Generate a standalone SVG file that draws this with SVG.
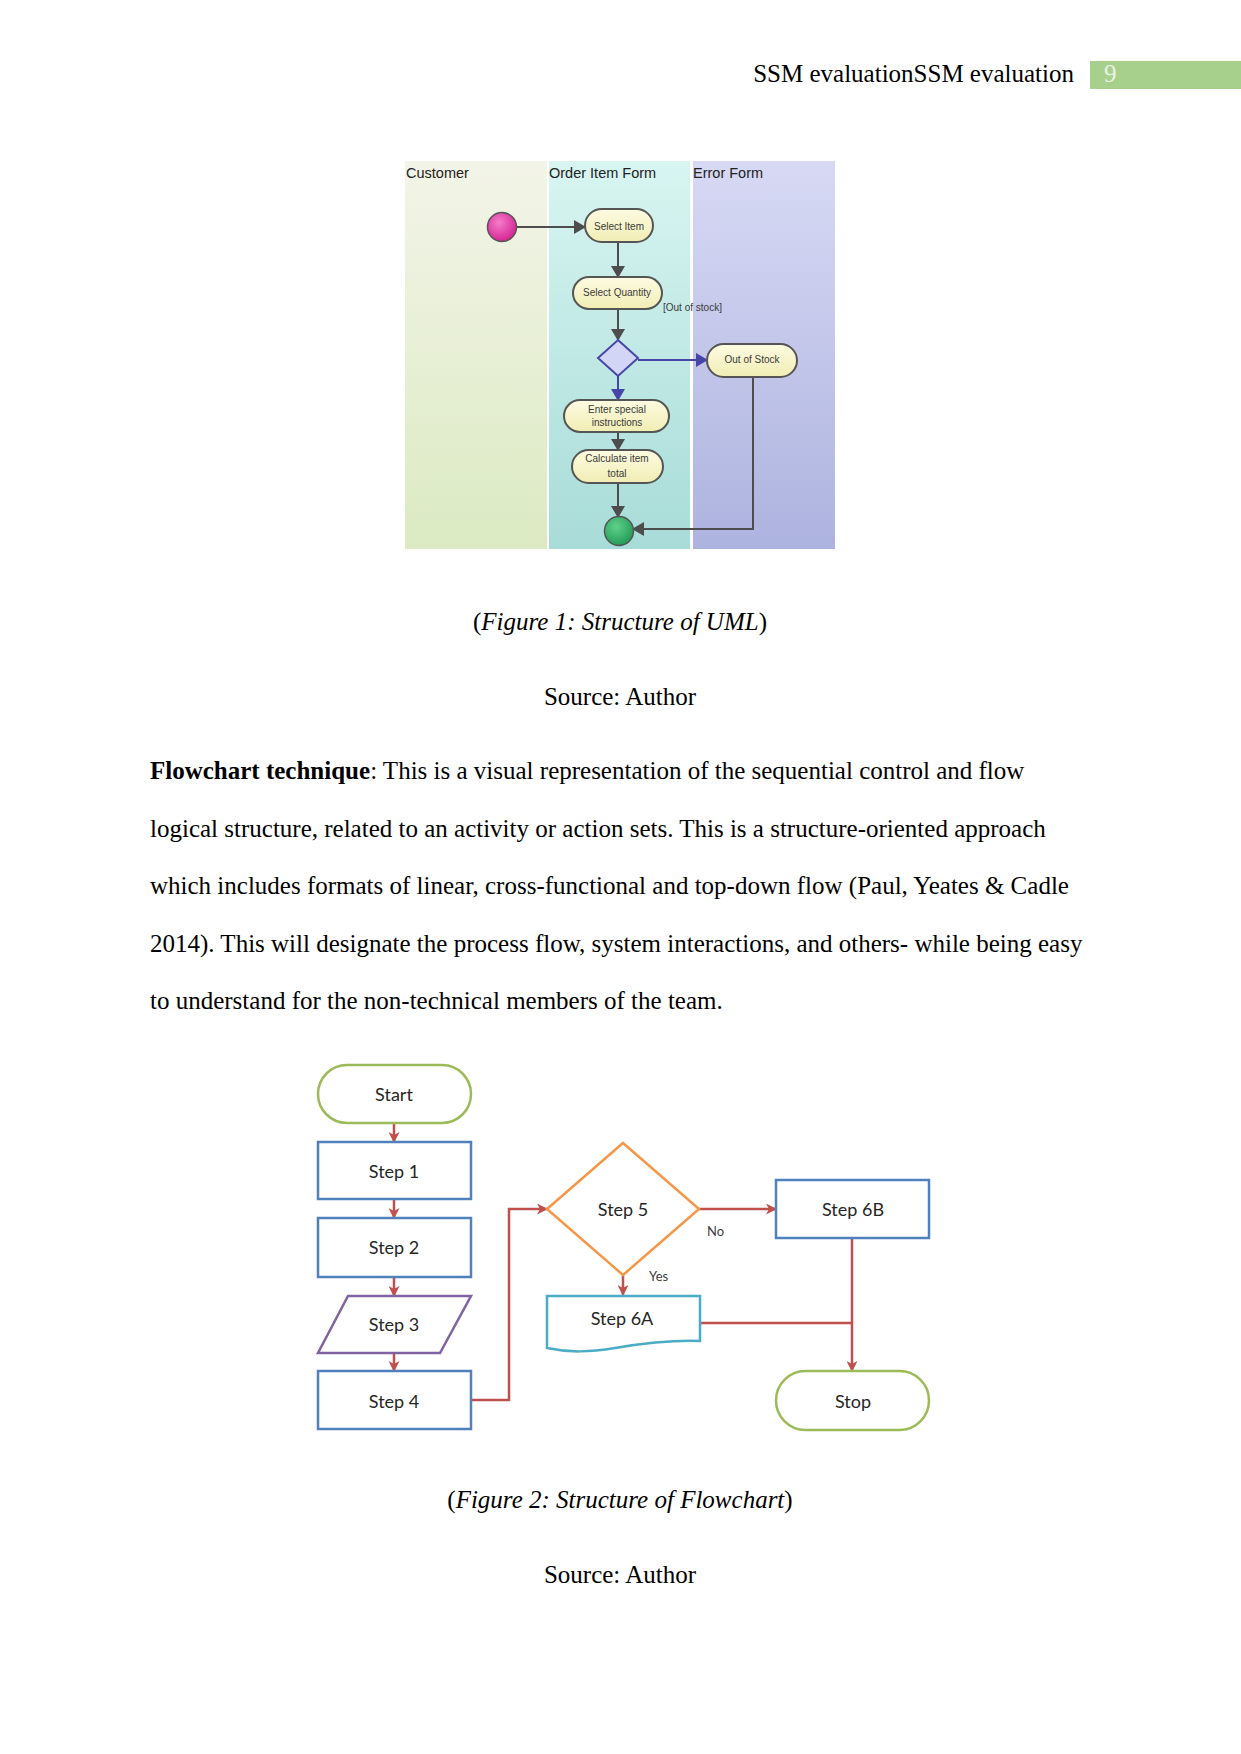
<svg xmlns="http://www.w3.org/2000/svg" width="1241" height="1754" viewBox="0 0 1241 1754">
<style>
.serif{font-family:"Liberation Serif","Times New Roman",serif;font-size:25px;fill:#000}
.it{font-style:italic}
.lane{font-family:"Liberation Sans",Arial,sans-serif;font-size:14.5px;fill:#222}
.un{fill:url(#nodeFill);stroke:#555;stroke-width:2}
.ut{font-family:"Liberation Sans",Arial,sans-serif;font-size:10px;fill:#3a3a3a;text-anchor:middle}
.ul{fill:none;stroke:#4d4d4d;stroke-width:2}
.ub{fill:none;stroke:#4646a8;stroke-width:2}
.ft{font-family:Lato,"Open Sans",sans-serif;font-size:18px;fill:#262626;text-anchor:middle}
.fl{font-family:Lato,"Open Sans",sans-serif;font-size:13px;fill:#404040}
.fc{fill:none;stroke:#c0504d;stroke-width:2.5}
</style>
<defs>
<linearGradient id="gCust" x1="0" y1="0" x2="0" y2="1"><stop offset="0" stop-color="#f3f4e8"/><stop offset="1" stop-color="#dbeac2"/></linearGradient>
<linearGradient id="gOrder" x1="0" y1="0" x2="0" y2="1"><stop offset="0" stop-color="#d8f5f1"/><stop offset="1" stop-color="#a8dcd8"/></linearGradient>
<linearGradient id="gErr" x1="0" y1="0" x2="0" y2="1"><stop offset="0" stop-color="#d7d9f4"/><stop offset="1" stop-color="#adb3df"/></linearGradient>
<linearGradient id="nodeFill" x1="0" y1="0" x2="0" y2="1"><stop offset="0" stop-color="#fdfbe2"/><stop offset="1" stop-color="#f1edb4"/></linearGradient>
<radialGradient id="gPink" cx="0.4" cy="0.35" r="0.7"><stop offset="0" stop-color="#f57ccb"/><stop offset="1" stop-color="#d41f8e"/></radialGradient>
<radialGradient id="gGreen" cx="0.4" cy="0.35" r="0.7"><stop offset="0" stop-color="#5fd08a"/><stop offset="1" stop-color="#1f9a55"/></radialGradient>
<marker id="aG" markerUnits="userSpaceOnUse" markerWidth="12" markerHeight="14" refX="11" refY="7" orient="auto"><path d="M0,0 L12,7 L0,14 Z" fill="#4d4d4d"/></marker>
<marker id="aB" markerUnits="userSpaceOnUse" markerWidth="12" markerHeight="14" refX="11" refY="7" orient="auto"><path d="M0,0 L12,7 L0,14 Z" fill="#4646a8"/></marker>
<marker id="aR" markerUnits="userSpaceOnUse" markerWidth="11" markerHeight="11" refX="10" refY="5.5" orient="auto"><path d="M0,0 L11,5.5 L0,11 L3,5.5 Z" fill="#c0504d"/></marker>
</defs>

<!-- Header -->
<g id="header">
<text class="serif" x="1074" y="82" text-anchor="end">SSM evaluationSSM evaluation</text>
<rect x="1090" y="61" width="151" height="28" fill="#a8d08d"/>
<text class="serif" x="1104" y="82" fill="#e8f2e0" style="fill:#e8f2e0">9</text>
</g>

<!-- Figure 1: UML -->
<g id="uml-lanes">
<rect x="405" y="161" width="142" height="388" fill="url(#gCust)"/>
<rect x="549" y="161" width="141" height="388" fill="url(#gOrder)"/>
<rect x="693" y="161" width="142" height="388" fill="url(#gErr)"/>
<text class="lane" x="406" y="178">Customer</text>
<text class="lane" x="549" y="178">Order Item Form</text>
<text class="lane" x="693" y="178">Error Form</text>
</g>
<g id="uml-connectors">
<line class="ul" x1="517" y1="227" x2="585" y2="227" marker-end="url(#aG)"/>
<line class="ul" x1="618" y1="242" x2="618" y2="277" marker-end="url(#aG)"/>
<line class="ul" x1="618" y1="309" x2="618" y2="340" marker-end="url(#aG)"/>
<line class="ub" x1="638" y1="360" x2="707" y2="360" marker-end="url(#aB)"/>
<line class="ub" x1="618" y1="376" x2="618" y2="400" marker-end="url(#aB)"/>
<line class="ul" x1="618" y1="432" x2="618" y2="450" marker-end="url(#aG)"/>
<line class="ul" x1="618" y1="483" x2="618" y2="517" marker-end="url(#aG)"/>
<polyline class="ul" points="753,377 753,529 633,529" marker-end="url(#aG)"/>
<text class="ut" x="663" y="311" style="text-anchor:start">[Out of stock]</text>
</g>
<g id="uml-start"><circle cx="502" cy="227" r="14.5" fill="url(#gPink)" stroke="#555" stroke-width="1.5"/></g>
<g id="uml-select-item"><rect class="un" x="585" y="209" width="68" height="33" rx="16.5"/><text class="ut" x="619" y="230">Select Item</text></g>
<g id="uml-select-quantity"><rect class="un" x="573" y="277" width="89" height="32" rx="16"/><text class="ut" x="617" y="296">Select Quantity</text></g>
<g id="uml-decision"><polygon points="618,340 638,358 618,376 598,358" fill="#d2d5f5" stroke="#4646a8" stroke-width="2"/></g>
<g id="uml-out-of-stock"><rect class="un" x="707" y="344" width="90" height="33" rx="16.5"/><text class="ut" x="752" y="363">Out of Stock</text></g>
<g id="uml-enter-special"><rect class="un" x="564" y="400" width="105" height="32" rx="16"/><text class="ut" x="617" y="413">Enter special</text><text class="ut" x="617" y="426">instructions</text></g>
<g id="uml-calculate"><rect class="un" x="572" y="450" width="91" height="33" rx="16.5"/><text class="ut" x="617" y="462">Calculate item</text><text class="ut" x="617" y="477">total</text></g>
<g id="uml-end"><circle cx="619" cy="531" r="14.5" fill="url(#gGreen)" stroke="#555" stroke-width="1.5"/></g>

<!-- Caption 1 -->
<text class="serif" x="620" y="630" text-anchor="middle">(<tspan class="it">Figure 1: Structure of UML</tspan>)</text>
<text class="serif" x="620" y="705" text-anchor="middle">Source: Author</text>

<!-- Paragraph -->
<g id="paragraph">
<text class="serif" x="150" y="779"><tspan font-weight="bold">Flowchart technique</tspan>: This is a visual representation of the sequential control and flow</text>
<text class="serif" x="150" y="837">logical structure, related to an activity or action sets. This is a structure-oriented approach</text>
<text class="serif" x="150" y="894">which includes formats of linear, cross-functional and top-down flow (Paul, Yeates &amp; Cadle</text>
<text class="serif" x="150" y="952">2014). This will designate the process flow, system interactions, and others- while being easy</text>
<text class="serif" x="150" y="1009">to understand for the non-technical members of the team.</text>
</g>

<!-- Figure 2: Flowchart -->
<g id="flow-connectors">
<line class="fc" x1="394" y1="1123" x2="394" y2="1142" marker-end="url(#aR)"/>
<line class="fc" x1="394" y1="1199" x2="394" y2="1218" marker-end="url(#aR)"/>
<line class="fc" x1="394" y1="1277" x2="394" y2="1296" marker-end="url(#aR)"/>
<line class="fc" x1="394" y1="1353" x2="394" y2="1371" marker-end="url(#aR)"/>
<polyline class="fc" points="472,1400 509,1400 509,1209 547,1209" marker-end="url(#aR)"/>
<line class="fc" x1="699" y1="1209" x2="776" y2="1209" marker-end="url(#aR)"/>
<line class="fc" x1="623" y1="1275" x2="623" y2="1295" marker-end="url(#aR)"/>
<line class="fc" x1="852" y1="1238" x2="852" y2="1371" marker-end="url(#aR)"/>
<line class="fc" x1="700" y1="1323" x2="852" y2="1323"/>
<text class="fl" x="707" y="1236">No</text>
<text class="fl" x="649" y="1281">Yes</text>
</g>
<g id="flow-start"><rect x="318" y="1065" width="153" height="58" rx="29" fill="#fff" stroke="#9bbb59" stroke-width="2.5"/><text class="ft" x="394" y="1101">Start</text></g>
<g id="flow-step1"><rect x="318" y="1142" width="153" height="57" fill="#fff" stroke="#4f81bd" stroke-width="2.5"/><text class="ft" x="394" y="1178">Step 1</text></g>
<g id="flow-step2"><rect x="318" y="1218" width="153" height="59" fill="#fff" stroke="#4f81bd" stroke-width="2.5"/><text class="ft" x="394" y="1254">Step 2</text></g>
<g id="flow-step3"><polygon points="348,1296 471,1296 440,1353 318,1353" fill="#fff" stroke="#8064a2" stroke-width="2.5"/><text class="ft" x="394" y="1331">Step 3</text></g>
<g id="flow-step4"><rect x="318" y="1371" width="153" height="58" fill="#fff" stroke="#4f81bd" stroke-width="2.5"/><text class="ft" x="394" y="1408">Step 4</text></g>
<g id="flow-step5"><polygon points="623,1143 699,1209 623,1275 547,1209" fill="#fff" stroke="#f79646" stroke-width="2.5"/><text class="ft" x="623" y="1216">Step 5</text></g>
<g id="flow-step6b"><rect x="776" y="1180" width="153" height="58" fill="#fff" stroke="#4f81bd" stroke-width="2.5"/><text class="ft" x="853" y="1216">Step 6B</text></g>
<g id="flow-step6a"><path d="M547,1296 L700,1296 L700,1341 C670,1340 645,1343 615,1348 C590,1352 570,1353 547,1348 Z" fill="#fff" stroke="#4bacc6" stroke-width="2.5"/><text class="ft" x="622" y="1325">Step 6A</text></g>
<g id="flow-stop"><rect x="776" y="1371" width="153" height="59" rx="29.5" fill="#fff" stroke="#9bbb59" stroke-width="2.5"/><text class="ft" x="853" y="1408">Stop</text></g>

<!-- Caption 2 -->
<text class="serif" x="620" y="1508" text-anchor="middle">(<tspan class="it">Figure 2: Structure of Flowchart</tspan>)</text>
<text class="serif" x="620" y="1583" text-anchor="middle">Source: Author</text>
</svg>
